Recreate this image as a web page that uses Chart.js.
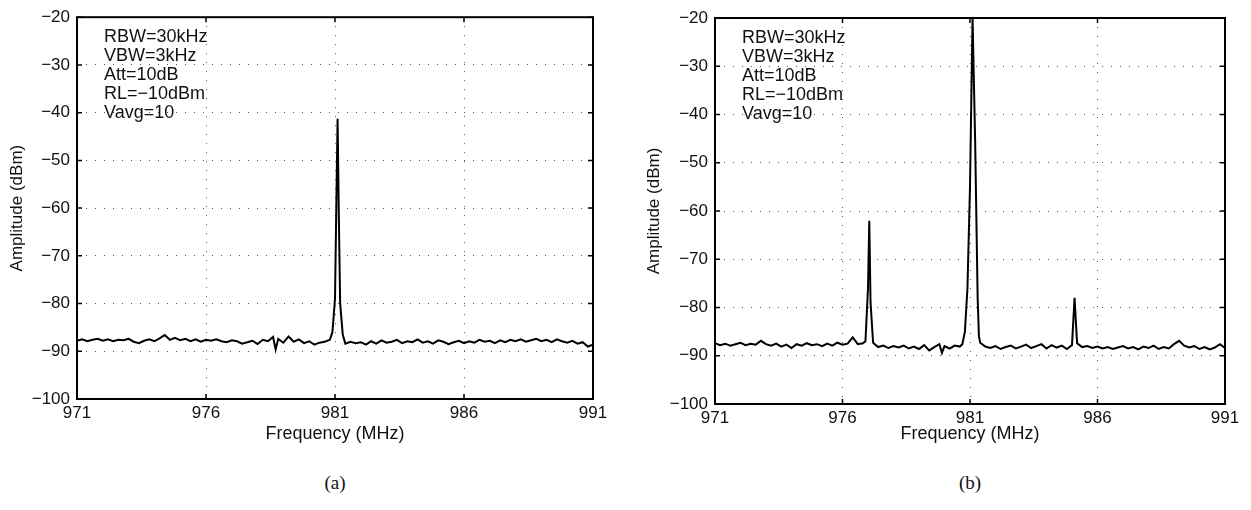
<!DOCTYPE html>
<html>
<head>
<meta charset="utf-8">
<script src="https://cdn.jsdelivr.net/npm/chart.js@4.4.1/dist/chart.umd.min.js"></script>
<style>
  body { margin: 0; background: #fff; width: 1251px; height: 510px; position: relative; overflow: hidden; }
  canvas { position: absolute; top: 0; }
  #chartA { left: 0; }
  #chartB { left: 625px; }
  .cap { position: absolute; top: 472px; font: 19px "Liberation Serif", "DejaVu Serif", serif; color: #111; transform: translateX(-50%); }
</style>
</head>
<body>
<canvas id="chartA" width="625" height="450"></canvas>
<canvas id="chartB" width="626" height="450"></canvas>
<div class="cap" style="left:335px">(a)</div>
<div class="cap" style="left:970px">(b)</div>
<script>
// * tick labels
const freqTicks = [971, 976, 981, 986, 991];
const ampTicks = [-100, -90, -80, -70, -60, -50, -40, -30, -20];
const settingsText = ["RBW=30kHz", "VBW=3kHz", "Att=10dB", "RL=\u221210dBm", "Vavg=10"];

// * spectrum (a) : one carrier near 981 MHz
const freqA = [
  971.0, 971.2, 971.4, 971.6, 971.8, 972.0, 972.2, 972.4, 972.6, 972.8,
  973.0, 973.2, 973.4, 973.6, 973.8, 974.0, 974.2, 974.4, 974.6, 974.8,
  975.0, 975.2, 975.4, 975.6, 975.8, 976.0, 976.2, 976.4, 976.6, 976.8,
  977.0, 977.2, 977.4, 977.6, 977.8, 978.0, 978.2, 978.4, 978.6, 978.7,
  978.8, 979.0, 979.2, 979.4, 979.6, 979.8, 980.0, 980.2, 980.4, 980.6,
  980.8, 980.9, 981.0, 981.05, 981.1, 981.15, 981.2, 981.3, 981.4, 981.6,
  981.8, 982.0, 982.2, 982.4, 982.6, 982.8, 983.0, 983.2, 983.4, 983.6,
  983.8, 984.0, 984.2, 984.4, 984.6, 984.8, 985.0, 985.2, 985.4, 985.6,
  985.8, 986.0, 986.2, 986.4, 986.6, 986.8, 987.0, 987.2, 987.4, 987.6,
  987.8, 988.0, 988.2, 988.4, 988.6, 988.8, 989.0, 989.2, 989.4, 989.6,
  989.8, 990.0, 990.2, 990.4, 990.6, 990.8, 991.0,
];
const ampA = [
  -87.8, -87.5, -87.9, -87.6, -87.4, -87.8, -87.5, -87.9, -87.6, -87.7,
  -87.4, -88.0, -88.3, -87.8, -87.5, -87.9, -87.3, -86.6, -87.6, -87.2,
  -87.7, -87.4, -87.9, -87.5, -88.0, -87.6, -87.8, -87.5, -87.9, -88.1,
  -87.7, -87.9, -88.4, -88.1, -87.8, -88.5, -87.6, -87.9, -87.0, -89.6,
  -87.4, -88.2, -86.9, -88.0, -87.5, -88.3, -87.9, -88.6, -88.2, -88.0,
  -87.6, -86.0, -79.0, -60.0, -41.3, -62.0, -80.0, -86.5, -88.4, -88.0,
  -88.3, -88.1, -88.6, -87.9, -88.4, -87.7, -88.2, -88.0, -87.6, -88.3,
  -87.9, -88.1, -87.5, -88.2, -87.9, -88.4, -87.7, -88.0, -88.5, -88.1,
  -87.8, -88.3, -87.9, -88.2, -87.6, -88.0, -87.8, -88.3, -87.7, -88.1,
  -87.6, -87.9, -87.5, -88.0, -87.7, -87.4, -87.9, -87.6, -88.1, -87.5,
  -87.9, -88.2, -87.8, -88.4, -88.1, -89.0, -88.6,
];

// * spectrum (b) : carrier plus two spurs
const freqB = [
  971.0, 971.2, 971.4, 971.6, 971.8, 972.0, 972.2, 972.4, 972.6, 972.8,
  973.0, 973.2, 973.4, 973.6, 973.8, 974.0, 974.2, 974.4, 974.6, 974.8,
  975.0, 975.2, 975.4, 975.6, 975.8, 976.0, 976.2, 976.4, 976.6, 976.8,
  976.9, 977.0, 977.05, 977.1, 977.2, 977.4, 977.6, 977.8, 978.0, 978.2,
  978.4, 978.6, 978.8, 979.0, 979.2, 979.4, 979.6, 979.8, 979.9, 980.0,
  980.2, 980.4, 980.6, 980.7, 980.8, 980.9, 981.0, 981.1, 981.2, 981.3,
  981.35, 981.4, 981.6, 981.8, 982.0, 982.2, 982.4, 982.6, 982.8, 983.0,
  983.2, 983.4, 983.6, 983.8, 984.0, 984.2, 984.4, 984.6, 984.8, 985.0,
  985.1, 985.2, 985.4, 985.6, 985.8, 986.0, 986.2, 986.4, 986.6, 986.8,
  987.0, 987.2, 987.4, 987.6, 987.8, 988.0, 988.2, 988.4, 988.6, 988.8,
  989.0, 989.2, 989.4, 989.6, 989.8, 990.0, 990.2, 990.4, 990.6, 990.8,
  991.0,
];
const ampB = [
  -87.4, -87.8, -87.5, -87.9, -87.6, -87.3, -87.8, -87.5, -87.7, -86.9,
  -87.6, -87.9, -87.5, -88.1, -87.7, -88.4, -87.6, -87.9, -87.4, -87.8,
  -87.6, -88.0, -87.5, -87.9, -87.3, -87.7, -87.5, -86.2, -87.6, -87.4,
  -87.0, -76.0, -62.0, -79.0, -87.3, -88.2, -87.9, -88.4, -88.0, -88.3,
  -87.9, -88.5, -88.1, -88.6, -87.8, -88.9, -88.2, -87.6, -89.4, -88.0,
  -88.5, -87.9, -88.1, -87.6, -85.0, -76.0, -55.0, -20.0, -45.0, -78.0,
  -86.0, -87.3, -88.1, -88.4, -88.0, -88.6, -88.2, -87.9, -88.5, -88.1,
  -87.7, -88.4, -88.0, -87.6, -88.5, -87.8, -88.3, -87.9, -88.6, -87.8,
  -78.0, -87.4, -88.2, -88.0, -88.4, -88.1, -88.5, -88.2, -88.6, -88.3,
  -88.0, -88.5, -88.2, -88.7, -88.1, -88.4, -87.9, -88.6, -88.2, -88.5,
  -87.6, -86.9, -87.9, -88.3, -88.0, -88.6, -88.2, -88.7, -88.3, -87.6,
  -88.4,
];

const fontFam = "'Liberation Sans', Arial, Helvetica, sans-serif";

// ? frame like matlab: box, inward ticks, settings text
const matlabFrame = {
  id: "matlabFrame",
  afterDraw(chart, args, opts) {
    const { ctx, chartArea: a, scales } = chart;
    ctx.save();
    ctx.strokeStyle = "#000";
    ctx.lineWidth = 2;
    ctx.strokeRect(a.left, a.top, a.right - a.left, a.bottom - a.top);
    ctx.lineWidth = 1.5;
    ctx.beginPath();
    scales.y.ticks.forEach((t) => {
      const y = scales.y.getPixelForValue(t.value);
      ctx.moveTo(a.left, y); ctx.lineTo(a.left + 5, y);
      ctx.moveTo(a.right, y); ctx.lineTo(a.right - 5, y);
    });
    scales.x.ticks.forEach((t) => {
      const x = scales.x.getPixelForValue(t.value);
      ctx.moveTo(x, a.bottom); ctx.lineTo(x, a.bottom - 5);
      ctx.moveTo(x, a.top); ctx.lineTo(x, a.top + 5);
    });
    ctx.stroke();
    ctx.fillStyle = "#111";
    ctx.font = "18px " + fontFam;
    ctx.textBaseline = "middle";
    settingsText.forEach((s, i) => {
      ctx.fillText(s, a.left + opts.dx, a.top + opts.dy + i * 19);
    });
    ctx.restore();
  },
};

const makeOptions = (axisW, axisH, pad, titlePad) => ({
  responsive: false,
  animation: false,
  layout: { padding: pad },
  plugins: {
    legend: { display: false },
    tooltip: { enabled: false },
    matlabFrame: { dx: 27, dy: 20 },
  },
  scales: {
    x: {
      type: "linear",
      min: 971,
      max: 991,
      afterBuildTicks: (s) => { s.ticks = freqTicks.map((v) => ({ value: v })); },
      afterFit: (s) => { s.height = axisH; },
      grid: { color: "#555", drawTicks: false, lineWidth: 1 },
      border: { display: false, dash: [1, 8] },
      ticks: { color: "#111", padding: 4, maxRotation: 0, font: { family: fontFam, size: 17 } },
      title: { display: true, text: "Frequency (MHz)", color: "#111", padding: { top: 0, bottom: 5 }, font: { family: fontFam, size: 18 } },
    },
    y: {
      min: -100,
      max: -20,
      afterBuildTicks: (s) => { s.ticks = ampTicks.map((v) => ({ value: v })); },
      afterFit: (s) => { s.width = axisW; },
      grid: { color: "#555", drawTicks: false, lineWidth: 1 },
      border: { display: false, dash: [1, 8] },
      ticks: {
        color: "#111",
        padding: 7,
        font: { family: fontFam, size: 17 },
        callback: (v) => String(v).replace("-", "\u2212"),
      },
      title: { display: true, text: "Amplitude (dBm)", color: "#111", padding: { top: titlePad, bottom: 0 }, font: { family: fontFam, size: 17 } },
    },
  },
});

const lineStyle = {
  borderColor: "#000",
  borderWidth: 2,
  pointRadius: 0,
  tension: 0,
  fill: false,
};

const chartA = new Chart(document.getElementById("chartA").getContext("2d"), {
  type: "line",
  data: {
    datasets: [{ ...lineStyle, data: freqA.map((f, i) => ({ x: f, y: ampA[i] })) }],
  },
  options: makeOptions(77, 51, { top: 15, right: 32, bottom: 0, left: 0 }, 7),
  plugins: [matlabFrame],
});

const chartB = new Chart(document.getElementById("chartB").getContext("2d"), {
  type: "line",
  data: {
    datasets: [{ ...lineStyle, data: freqB.map((f, i) => ({ x: f, y: ampB[i] })) }],
  },
  options: makeOptions(90, 46, { top: 18, right: 26, bottom: 0, left: 0 }, 19),
  plugins: [matlabFrame],
});
</script>
</body>
</html>
